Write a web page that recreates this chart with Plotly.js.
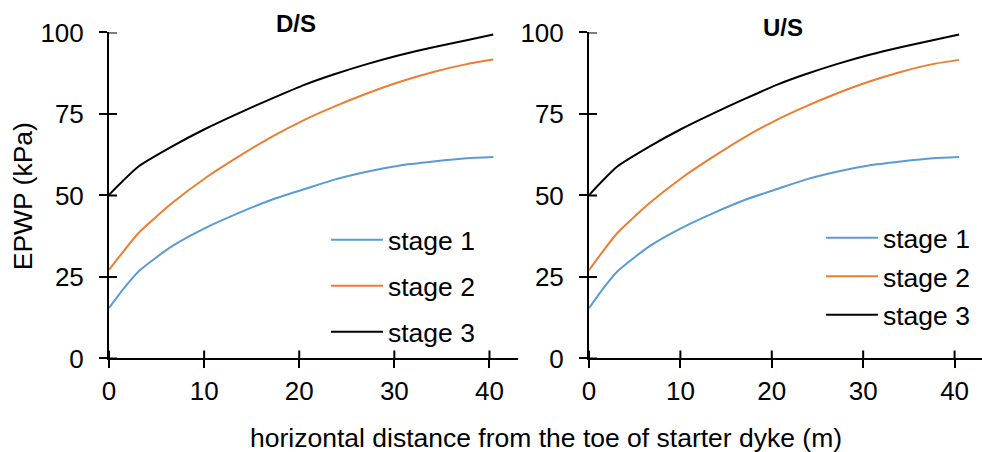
<!DOCTYPE html>
<html><head><meta charset="utf-8">
<script src="https://cdn.plot.ly/plotly-3.0.1.min.js"></script>
<style>html,body{margin:0;padding:0;background:#fff}#chart{width:982px;height:452px}</style>
</head><body><div id="chart"></div>
<script>
// Data
const distanceDS = [0, 1.5, 3.1, 6.6, 10.1, 13.6, 17.1, 20.6, 23.6, 27.1, 30.6, 34.1, 37.6, 40.4];
const dsStage1 = [15.5, 21.3, 26.7, 34.4, 40.0, 44.6, 48.7, 52.0, 54.8, 57.3, 59.2, 60.4, 61.4, 61.8];
const dsStage2 = [27.2, 32.8, 38.5, 47.6, 55.3, 61.9, 68.0, 73.3, 77.2, 81.3, 84.9, 87.9, 90.3, 91.7];
const dsStage3 = [50.2, 54.6, 58.9, 65.0, 70.4, 75.2, 79.7, 84.0, 87.1, 90.3, 93.1, 95.5, 97.6, 99.4];

const distanceUS = [0, 1.5, 3.1, 6.6, 10.1, 13.6, 17.1, 20.6, 23.6, 27.1, 30.6, 34.1, 37.6, 40.5];
const usStage1 = [15.4, 21.3, 26.7, 34.4, 40.0, 44.6, 48.7, 52.0, 54.8, 57.3, 59.2, 60.4, 61.4, 61.8];
const usStage2 = [27.1, 32.8, 38.5, 47.6, 55.3, 61.9, 68.0, 73.3, 77.2, 81.3, 84.9, 87.9, 90.3, 91.6];
const usStage3 = [50.1, 54.6, 58.9, 65.0, 70.4, 75.2, 79.7, 84.0, 87.1, 90.3, 93.1, 95.5, 97.6, 99.4];

const seriesNames = ['stage 1', 'stage 2', 'stage 3'];
const seriesColors = ['#5B9BD5', '#ED7D31', '#000000'];
const xTickVals = [0, 10, 20, 30, 40];
const xTickText = ['0', '10', '20', '30', '40'];
const yTickVals = [0, 25, 50, 75, 100];
const yTickText = ['0', '25', '50', '75', '100'];
const panelTitles = ['D/S', 'U/S'];
const xTitle = 'horizontal distance from the toe of starter dyke (m)';
const yTitle = 'EPWP (kPa)';

const FONT = 'Liberation Sans, Arial, sans-serif';
const W = 982, H = 452;
const TICKLEN = 8;
const xDomL = [0.1110, 0.5275], xDomR = [0.5998, 1.0], yDom = [0.2069, 0.9281];

function mk(x, y, i, xa, ya, leg, grp) {
  return {
    x: x, y: y, type: 'scatter', mode: 'lines', name: seriesNames[i],
    line: {color: seriesColors[i], width: 2, shape: 'spline', smoothing: 0.6},
    xaxis: xa, yaxis: ya, legend: leg, legendgroup: grp + i, hoverinfo: 'skip'
  };
}

const traces = [
  mk(distanceDS, dsStage1, 0, 'x', 'y', 'legend', 'a'),
  mk(distanceDS, dsStage2, 1, 'x', 'y', 'legend', 'a'),
  mk(distanceDS, dsStage3, 2, 'x', 'y', 'legend', 'a'),
  mk(distanceUS, usStage1, 0, 'x2', 'y2', 'legend2', 'b'),
  mk(distanceUS, usStage2, 1, 'x2', 'y2', 'legend2', 'b'),
  mk(distanceUS, usStage3, 2, 'x2', 'y2', 'legend2', 'b')
];

const TICKFONT = {family: FONT, size: 26, color: '#000'};
function xAx(dom, extra) {
  return Object.assign({
    domain: dom, range: [0, 43], tickmode: 'array', tickvals: xTickVals, ticktext: xTickText,
    ticks: 'outside', ticklen: TICKLEN, tickwidth: 2, tickcolor: '#000',
    showline: true, linewidth: 2, linecolor: '#000', showgrid: false, zeroline: false,
    tickfont: TICKFONT, ticklabelstandoff: 0, fixedrange: true
  }, extra || {});
}
function yAx(extra) {
  return Object.assign({
    domain: yDom, range: [0, 100], tickmode: 'array', tickvals: yTickVals, ticktext: yTickText,
    ticks: 'outside', ticklen: TICKLEN, tickwidth: 2, tickcolor: '#000',
    showline: true, linewidth: 2, linecolor: '#000', showgrid: false, zeroline: false,
    tickfont: TICKFONT, ticklabelstandoff: 10, fixedrange: true
  }, extra || {});
}

// inner halves of the cross-style tick marks, placed at the tick values
const shapes = [];
const plotH = (yDom[1] - yDom[0]) * H;
[['x', 'y', xDomL], ['x2', 'y2', xDomR]].forEach(function (p) {
  const plotW = (p[2][1] - p[2][0]) * W;
  xTickVals.forEach(function (v) {
    shapes.push({type: 'line', xref: p[0], yref: p[1] + ' domain', x0: v, x1: v,
      y0: 0, y1: TICKLEN / plotH, line: {color: '#000', width: 2}});
  });
  yTickVals.forEach(function (v) {
    shapes.push({type: 'line', xref: p[0] + ' domain', yref: p[1], y0: v, y1: v,
      x0: 0, x1: TICKLEN / plotW, line: {color: '#000', width: 2}});
  });
});

const legendBase = {
  xanchor: 'left', yanchor: 'top', bgcolor: 'rgba(0,0,0,0)', borderwidth: 0,
  font: {family: FONT, size: 26.5, color: '#000'}, itemwidth: 52, traceorder: 'grouped'
};

const layout = {
  width: W, height: H,
  margin: {l: 0, r: 0, t: 0, b: 0},
  paper_bgcolor: '#fff', plot_bgcolor: 'rgba(0,0,0,0)',
  font: {family: FONT, color: '#000'},
  xaxis: xAx(xDomL, {anchor: 'y'}),
  yaxis: yAx({anchor: 'x'}),
  xaxis2: xAx(xDomR, {anchor: 'y2'}),
  yaxis2: yAx({anchor: 'x2'}),
  shapes: shapes,
  legend: Object.assign({}, legendBase, {x: 326 / W, y: (H - 216) / H, tracegroupgap: 8.5}),
  legend2: Object.assign({}, legendBase, {x: 821 / W, y: (H - 214) / H, tracegroupgap: 1}),
  annotations: [
    {text: xTitle, xref: 'paper', yref: 'paper', x: 546 / W, y: (H - 438) / H,
     xanchor: 'center', yanchor: 'middle', showarrow: false, font: {family: FONT, size: 26.5, color: '#000'}},
    {text: yTitle, xref: 'paper', yref: 'paper', x: 23.3 / W, y: (H - 196) / H, textangle: -90,
     xanchor: 'center', yanchor: 'middle', showarrow: false, font: {family: FONT, size: 26.5, color: '#000'}},
    {text: '<b>' + panelTitles[0] + '</b>', xref: 'paper', yref: 'paper', x: 295.8 / W, y: (H - 23.3) / H,
     xanchor: 'center', yanchor: 'middle', showarrow: false, font: {family: FONT, size: 24, color: '#000'}},
    {text: '<b>' + panelTitles[1] + '</b>', xref: 'paper', yref: 'paper', x: 783 / W, y: (H - 27) / H,
     xanchor: 'center', yanchor: 'middle', showarrow: false, font: {family: FONT, size: 24, color: '#000'}}
  ],
  showlegend: true
};

Plotly.newPlot('chart', traces, layout, {displayModeBar: false, staticPlot: true});
</script>
</body></html>
